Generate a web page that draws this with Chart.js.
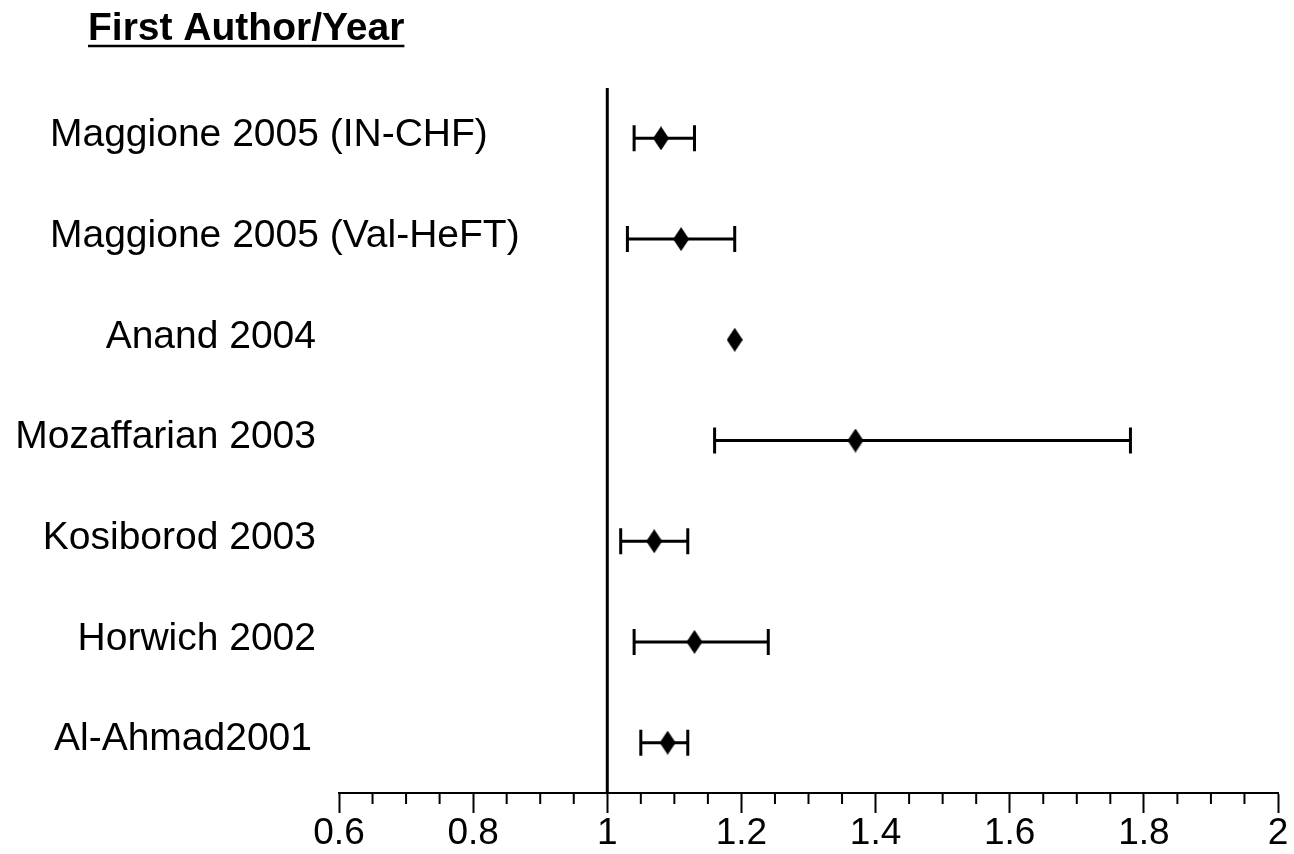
<!DOCTYPE html>
<html>
<head>
<meta charset="utf-8">
<script src="https://cdn.jsdelivr.net/npm/chart.js@4.4.1/dist/chart.umd.min.js"></script>
<style>
  html, body { margin: 0; padding: 0; background: #fff; }
  #wrap { width: 1294px; height: 854px; }
</style>
</head>
<body>
<div id="wrap"><canvas id="forest"></canvas></div>
<script>
// study rows, top to bottom
const studies = [
  'Maggione 2005 (IN-CHF)',
  'Maggione 2005 (Val-HeFT)',
  'Anand 2004',
  'Mozaffarian 2003',
  'Kosiborod 2003',
  'Horwich 2002',
  'Al-Ahmad2001'
]
const estimate = [1.08, 1.11, 1.19, 1.37, 1.07, 1.13, 1.09]
const lower    = [1.04, 1.03, null, 1.16, 1.02, 1.04, 1.05]
const upper    = [1.13, 1.19, null, 1.78, 1.12, 1.24, 1.12]
const tickValues = [0.6, 0.8, 1, 1.2, 1.4, 1.6, 1.8, 2]
const minorStep = 0.05
const refLine = 1
const heading = 'First Author/Year'

const FONT = '"Liberation Sans", Arial, Helvetica, sans-serif'

// label placement (left aligned for the two long ones)
const labelPos = [
  { x: 50, align: 'left' },
  { x: 50, align: 'left' },
  { x: 316, align: 'right' },
  { x: 316, align: 'right' },
  { x: 316, align: 'right' },
  { x: 316, align: 'right' },
  { x: 312, align: 'right' }
]

// tall diamond marker
function diamond(w, h) {
  const c = document.createElement('canvas')
  c.width = w
  c.height = h
  const g = c.getContext('2d')
  g.fillStyle = '#000'
  g.beginPath()
  g.moveTo(w / 2, 0)
  g.lineTo(w, h / 2)
  g.lineTo(w / 2, h)
  g.lineTo(0, h / 2)
  g.closePath()
  g.fill()
  return c
}

const forestPlugin = {
  id: 'forest',
  beforeDatasetsDraw(chart) {
    const { ctx, chartArea, scales: { x, y } } = chart
    ctx.save()
    ctx.strokeStyle = '#000'

    // minor ticks
    ctx.lineWidth = 2
    for (let v = x.min; v <= x.max + 1e-9; v += minorStep) {
      const r = Math.round(v * 100) / 100
      if (tickValues.some(t => Math.abs(t - r) < 1e-6)) continue
      const px = x.getPixelForValue(r)
      ctx.beginPath()
      ctx.moveTo(px, chartArea.bottom)
      ctx.lineTo(px, chartArea.bottom + 11)
      ctx.stroke()
    }

    // reference line
    ctx.lineWidth = 3
    const rx = x.getPixelForValue(refLine)
    ctx.beginPath()
    ctx.moveTo(rx, chartArea.top)
    ctx.lineTo(rx, chartArea.bottom)
    ctx.stroke()

    // error bars
    ctx.lineWidth = 3
    estimate.forEach((_, i) => {
      if (lower[i] == null) return
      const py = y.getPixelForValue(i)
      const x1 = x.getPixelForValue(lower[i])
      const x2 = x.getPixelForValue(upper[i])
      ctx.beginPath()
      ctx.moveTo(x1, py)
      ctx.lineTo(x2, py)
      ctx.moveTo(x1, py - 13)
      ctx.lineTo(x1, py + 13)
      ctx.moveTo(x2, py - 13)
      ctx.lineTo(x2, py + 13)
      ctx.stroke()
    })

    // study labels
    ctx.fillStyle = '#000'
    ctx.font = '39px ' + FONT
    ctx.textBaseline = 'middle'
    studies.forEach((s, i) => {
      ctx.textAlign = labelPos[i].align
      ctx.fillText(s, labelPos[i].x, y.getPixelForValue(i) - 3)
    })

    // heading
    ctx.font = 'bold 39px ' + FONT
    ctx.textAlign = 'left'
    ctx.textBaseline = 'alphabetic'
    ctx.fillText(heading, 88, 40)
    const w = ctx.measureText(heading).width
    ctx.lineWidth = 2.5
    ctx.beginPath()
    ctx.moveTo(88, 46)
    ctx.lineTo(88 + w, 46)
    ctx.stroke()
    ctx.restore()
  }
}

new Chart(document.getElementById('forest'), {
  type: 'scatter',
  data: {
    labels: studies,
    datasets: [{
      data: estimate.map((v, i) => ({ x: v, y: i })),
      pointStyle: diamond(16, 24),
      pointRadius: 12,
      pointHoverRadius: 12
    }]
  },
  options: {
    responsive: true,
    maintainAspectRatio: false,
    animation: false,
    layout: { padding: { left: 339, right: 16, top: 88, bottom: 0 } },
    plugins: {
      legend: { display: false },
      tooltip: { enabled: false }
    },
    scales: {
      x: {
        type: 'linear',
        min: 0.6,
        max: 2,
        afterBuildTicks: axis => { axis.ticks = tickValues.map(v => ({ value: v })) },
        ticks: {
          color: '#000',
          padding: 2,
          maxRotation: 0,
          autoSkip: false,
          font: { family: FONT, size: 37, lineHeight: 1 },
          callback: v => String(v)
        },
        grid: {
          drawOnChartArea: false,
          drawTicks: true,
          tickLength: 20,
          tickWidth: 2,
          tickColor: '#000'
        },
        border: { display: true, color: '#000', width: 2 }
      },
      y: {
        type: 'linear',
        display: false,
        reverse: true,
        min: -0.5,
        max: 6.5
      }
    }
  },
  plugins: [forestPlugin]
})
</script>
</body>
</html>
